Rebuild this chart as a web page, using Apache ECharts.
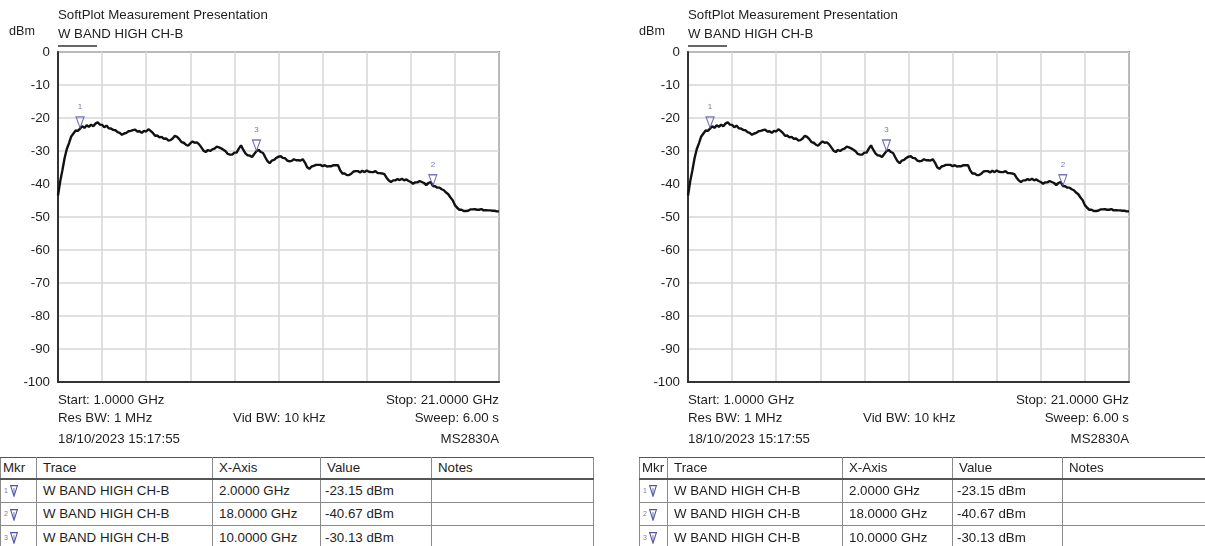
<!DOCTYPE html>
<html>
<head>
<meta charset="utf-8">
<script src="https://cdn.jsdelivr.net/npm/echarts@6/dist/echarts.min.js"></script>
<style>
html,body{margin:0;padding:0;background:#fff;overflow:hidden;width:1205px;height:546px}
#c{position:absolute;left:0;top:0;width:1205px;height:546px}
.tbl{position:absolute;top:457px;border-collapse:collapse;table-layout:fixed;font-family:'Liberation Sans',Arial,sans-serif;font-size:13.3px;color:#1e1e1e;background:#fff}
.tbl td{border:1px solid #8a8a8a;padding:0 0 0 6px;line-height:15px;vertical-align:middle;white-space:nowrap;overflow:hidden}
.tbl tr{height:23.5px}
.tbl tr.hd{height:21px}
.tbl tr.hd td{border-top:1px solid #555;border-bottom:2px solid #555}
.tbl td.mk{padding:0 0 0 3px}
.mk .n{font-size:7px;color:#7878b8;vertical-align:middle;line-height:10px}
.mk svg{vertical-align:middle;margin-left:2px}
</style>
</head>
<body>
<div id="c"></div>
<script>
// ---------------- data ----------------
const sweepStartGHz = 1.0;
const sweepStepGHz = 0.1;
const traceDbm = [
  -43.5,-39.2,-35.8,-32.1,-29.4,-27.6,-25.6,-24.7,-23.8,-23.9,
  -23.2,-22.5,-23.0,-22.2,-22.7,-22.0,-22.5,-21.7,-21.3,-22.0,
  -22.1,-22.8,-22.3,-23.1,-23.2,-23.6,-23.7,-24.3,-24.5,-25.1,
  -24.7,-24.5,-24.0,-23.9,-23.7,-23.5,-24.1,-24.0,-24.5,-23.9,
  -24.1,-23.4,-23.9,-24.5,-25.4,-25.3,-25.9,-25.7,-26.3,-26.2,
  -26.8,-26.7,-26.2,-25.4,-25.7,-26.4,-27.3,-27.5,-28.1,-28.4,
  -27.7,-27.1,-27.5,-27.4,-28.0,-28.9,-29.9,-30.3,-29.7,-30.0,
  -29.5,-29.3,-28.7,-28.9,-29.2,-29.6,-30.1,-30.9,-31.1,-31.1,
  -30.5,-30.5,-29.3,-28.3,-29.6,-30.7,-31.3,-31.4,-31.8,-30.9,
  -30.1,-29.7,-30.3,-30.6,-31.9,-33.1,-33.7,-32.9,-32.7,-32.1,
  -31.7,-31.6,-32.1,-32.2,-32.9,-33.1,-33.0,-32.5,-32.8,-32.8,
  -32.9,-32.5,-33.5,-34.9,-35.4,-34.7,-34.5,-34.2,-34.2,-34.2,
  -34.6,-34.3,-34.7,-34.6,-34.6,-34.3,-34.3,-34.3,-35.9,-36.8,
  -36.8,-37.3,-37.3,-36.9,-36.2,-36.1,-36.1,-36.5,-36.0,-36.4,
  -35.9,-36.3,-36.4,-36.4,-36.1,-36.7,-36.7,-36.8,-37.0,-38.1,
  -38.9,-39.4,-38.9,-38.9,-38.5,-38.8,-38.4,-38.9,-38.6,-39.1,
  -39.4,-39.9,-39.5,-39.5,-39.1,-39.4,-39.7,-40.3,-39.7,-39.4,
  -40.6,-40.7,-41.1,-41.1,-41.6,-41.9,-42.6,-43.1,-44.1,-44.9,
  -46.4,-47.2,-47.8,-47.8,-48.2,-48.2,-48.1,-47.7,-47.7,-47.6,
  -47.8,-47.8,-47.6,-48.0,-47.9,-48.0,-48.0,-48.1,-48.1,-48.3,
  -48.3
];
const markerIds = ['1','2','3'];
const markerFreqGHz = [2.0, 18.0, 10.0];
const markerDbm = [-23.15, -40.67, -30.13];
const markerFreqText = ['2.0000 GHz','18.0000 GHz','10.0000 GHz'];
const markerValueText = ['-23.15 dBm','-40.67 dBm','-30.13 dBm'];
const traceName = 'W BAND HIGH CH-B';
const titleText = 'SoftPlot Measurement Presentation';
const unitText = 'dBm';
const footerLeft = ['Start: 1.0000 GHz','Res BW: 1 MHz','18/10/2023 15:17:55'];
const footerMid = ['', 'Vid BW: 10 kHz', ''];
const footerRight = ['Stop: 21.0000 GHz','Sweep: 6.00 s','MS2830A'];
const tableHeader = ['Mkr','Trace','X-Axis','Value','Notes'];

// ---------------- chart ----------------
const FONT = "'Liberation Sans', Arial, sans-serif";
const TXT = '#1e1e1e';
const MK = '#5252a6';
const panels = [0, 630];
const tracePts = traceDbm.map((v, i) => [+(sweepStartGHz + i * sweepStepGHz).toFixed(2), v]);
const markerPts = markerFreqGHz.map((f, i) => ({ value: [f, markerDbm[i]], name: markerIds[i] }));

const grids = [], xAxes = [], yAxes = [], series = [], graphics = [];
panels.forEach((dx, p) => {
  grids.push({ left: 58 + dx, top: 52, width: 441, height: 330, show: true,
    borderColor: '#3a3a3a', borderWidth: 1.5, backgroundColor: '#fff' });
  // data axis
  xAxes.push({ gridIndex: p, type: 'value', min: 1, max: 21, position: 'bottom',
    axisLine: { show: true, onZero: false, lineStyle: { color: '#333', width: 2 } },
    axisTick: { show: false }, axisLabel: { show: false }, splitLine: { show: false } });
  // grid-line axis (offset from start, 2 GHz divisions)
  xAxes.push({ gridIndex: p, type: 'value', min: 0, max: 20, interval: 2, position: 'top',
    axisLine: { show: false }, axisTick: { show: false }, axisLabel: { show: false },
    splitLine: { show: true, lineStyle: { color: '#d6d6d6', width: 1.5 } } });
  yAxes.push({ gridIndex: p, type: 'value', min: -100, max: 0, interval: 10,
    axisLine: { show: true, onZero: false, lineStyle: { color: '#333', width: 2 } },
    axisTick: { show: false },
    axisLabel: { color: TXT, fontSize: 13.3, fontFamily: FONT, margin: 8 },
    splitLine: { show: true, lineStyle: { color: '#d6d6d6', width: 1.5 } } });
  series.push({ type: 'line', xAxisIndex: p * 2, yAxisIndex: p, data: tracePts,
    showSymbol: false, symbol: 'none', lineStyle: { color: '#111', width: 2.4 }, z: 3, silent: true });
  series.push({ type: 'scatter', xAxisIndex: p * 2, yAxisIndex: p, data: markerPts,
    symbol: 'path://M0,0L8,0L4,11Z', symbolSize: [8, 11], symbolOffset: [0, -6],
    itemStyle: { color: 'rgba(255,255,255,0)', borderColor: MK, borderWidth: 1.2 },
    label: { show: true, position: 'top', distance: 5, formatter: '{b}', color: MK,
      fontSize: 8, fontFamily: FONT }, z: 5, silent: true });

  const t = (text, x, y, align, size) => ({ type: 'text', x: x, y: y, silent: true,
    style: { text: text, fill: TXT, font: (size || 13.3) + 'px ' + FONT, align: align || 'left', verticalAlign: 'middle' } });
  graphics.push(t(titleText, 58 + dx, 15));
  graphics.push(t(traceName, 58 + dx, 34, 'left', 13.2));
  graphics.push(t(unitText, 9 + dx, 32, 'left', 12.6));
  graphics.push({ type: 'line', silent: true, shape: { x1: 58 + dx, y1: 46, x2: 97 + dx, y2: 46 },
    style: { stroke: '#333', lineWidth: 1.5 } });
  const rowsY = [400, 418, 439];
  rowsY.forEach((y, r) => {
    graphics.push(t(footerLeft[r], 58 + dx, y));
    if (footerMid[r]) graphics.push(t(footerMid[r], 233 + dx, y));
    graphics.push(t(footerRight[r], 499 + dx, y, 'right'));
  });
});

const chart = echarts.init(document.getElementById('c'), null, { renderer: 'canvas', width: 1205, height: 546 });
chart.setOption({
  animation: false,
  backgroundColor: '#fff',
  grid: grids, xAxis: xAxes, yAxis: yAxes, series: series, graphic: graphics
});

// ---------------- marker tables ----------------
const tableDefs = [
  { left: 0, widths: [36, 176, 108, 111, 162] },
  { left: 639, widths: [28, 175, 110, 110, 162] }
];
const triSvg = '<svg width="8" height="12" viewBox="0 0 8 12"><polygon points="0.6,0.6 7.4,0.6 4,11.2" fill="none" stroke="' + MK + '" stroke-width="1.1"/><line x1="4" y1="3" x2="4" y2="9" stroke="' + MK + '" stroke-width="0.8"/></svg>';
tableDefs.forEach(def => {
  const tb = document.createElement('table');
  tb.className = 'tbl';
  tb.style.left = def.left + 'px';
  tb.style.width = def.widths.reduce((a, b) => a + b, 0) + 'px';
  let html = '<colgroup>' + def.widths.map(w => '<col style="width:' + w + 'px">').join('') + '</colgroup>';
  html += '<tr class="hd">' + tableHeader.map((h, i) => '<td' + (i === 0 ? ' style="padding-left:2px"' : '') + '>' + h + '</td>').join('') + '</tr>';
  markerIds.forEach((id, i) => {
    html += '<tr><td class="mk"><span class="n">' + id + '</span>' + triSvg + '</td><td>' + traceName +
      '</td><td>' + markerFreqText[i] + '</td><td style="padding-left:4px">' + markerValueText[i] + '</td><td></td></tr>';
  });
  tb.innerHTML = html;
  document.body.appendChild(tb);
});
</script>
</body>
</html>
